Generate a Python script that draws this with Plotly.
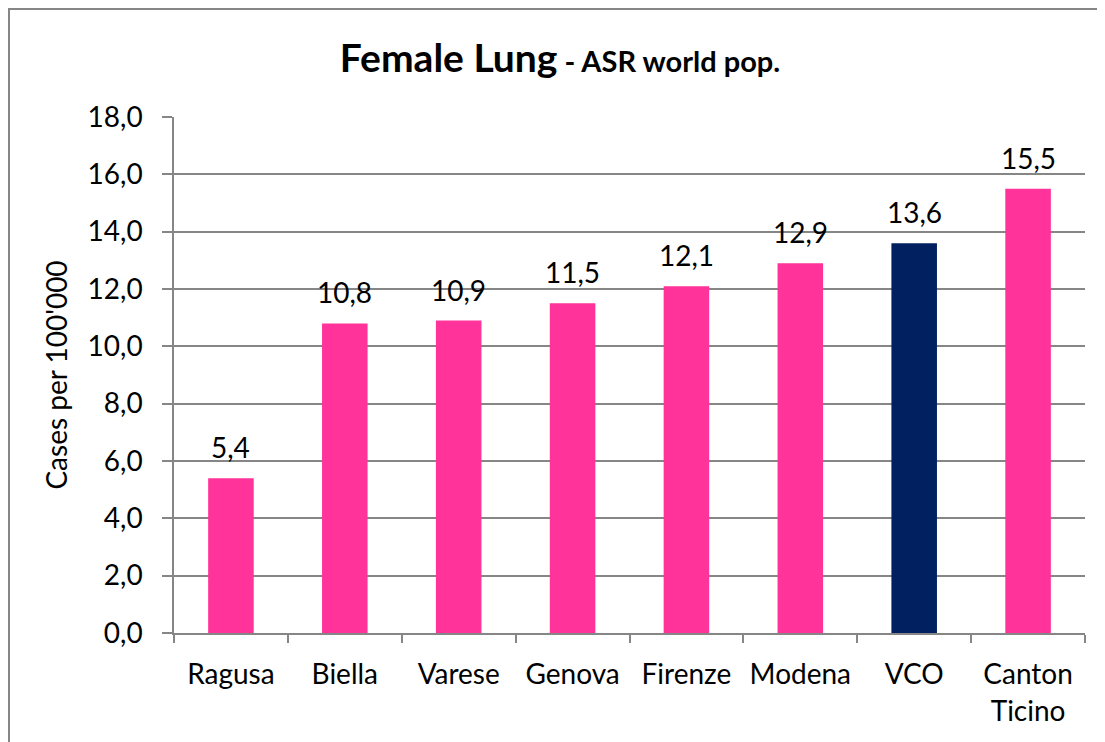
import plotly.graph_objects as go

# data
regions = ["Ragusa", "Biella", "Varese", "Genova", "Firenze", "Modena", "VCO", "Canton<br>Ticino"]
asr_values = [5.4, 10.8, 10.9, 11.5, 12.1, 12.9, 13.6, 15.5]
highlight = "VCO"
y_ticks = [0, 2, 4, 6, 8, 10, 12, 14, 16, 18]

PINK = "#FF3399"
NAVY = "#002060"
GREY = "#868686"
FONT = "Lato, 'Open Sans', sans-serif"

# page body has an 8px margin, so shift everything back by 8px
OFF = 8
W, H = 1105, 742
L, T, R, B = 174 - OFF, 117 - OFF, W - 1085 + OFF, H - 633 + OFF
PW, PH = W - L - R, H - T - B


def fmt(v):
    return f"{v:.1f}".replace(".", ",")


colors = [NAVY if r == highlight else PINK for r in regions]

fig = go.Figure()
fig.add_trace(go.Bar(
    x=regions, y=asr_values,
    marker=dict(color=colors, line=dict(width=0)),
    hovertemplate="%{x}: %{y}<extra></extra>",
))

# value labels above the bars
for r, v in zip(regions, asr_values):
    fig.add_annotation(x=r, y=v, text=fmt(v), showarrow=False,
                       yanchor="middle", yshift=31,
                       font=dict(size=28, color="black", family=FONT))

fig.update_layout(
    width=W, height=H,
    margin=dict(l=L, r=R, t=T, b=B),
    paper_bgcolor="white", plot_bgcolor="white",
    bargap=0.6,
    showlegend=False,
    font=dict(family=FONT, size=28, color="black"),
    title=dict(
        text="<b>Female Lung</b><b><span style='font-size:29px'> - ASR world pop.</span></b>",
        x=(560 - OFF) / W, xanchor="center", y=1 - (58 - OFF) / H, yanchor="middle",
        font=dict(size=39, family=FONT, color="black"),
    ),
    shapes=[dict(
        type="rect", xref="paper", yref="paper",
        x0=-(L - 1) / PW, x1=1.05, y0=-0.3, y1=1 + (T - 1) / PH,
        line=dict(color=GREY, width=2), fillcolor="rgba(0,0,0,0)", layer="below",
    )],
)

fig.update_yaxes(
    range=[0, 18],
    tickvals=y_ticks, ticktext=[fmt(v) for v in y_ticks],
    showgrid=True, gridcolor=GREY, gridwidth=1.5,
    showline=True, linecolor=GREY, linewidth=1.5,
    ticks="outside", ticklen=10, tickcolor=GREY, tickwidth=1.5,
    ticklabelstandoff=14,
    zeroline=False,
    tickfont=dict(size=28),
    title=dict(text="Cases per 100'000", font=dict(size=28), standoff=12),
)
fig.update_xaxes(
    showline=True, linecolor=GREY, linewidth=1.5,
    ticks="outside", ticklen=8, tickcolor=GREY, tickwidth=1.5,
    tickson="boundaries",
    ticklabelstandoff=16,
    tickfont=dict(size=28),
    showgrid=False,
)

fig.write_html("out.html")
